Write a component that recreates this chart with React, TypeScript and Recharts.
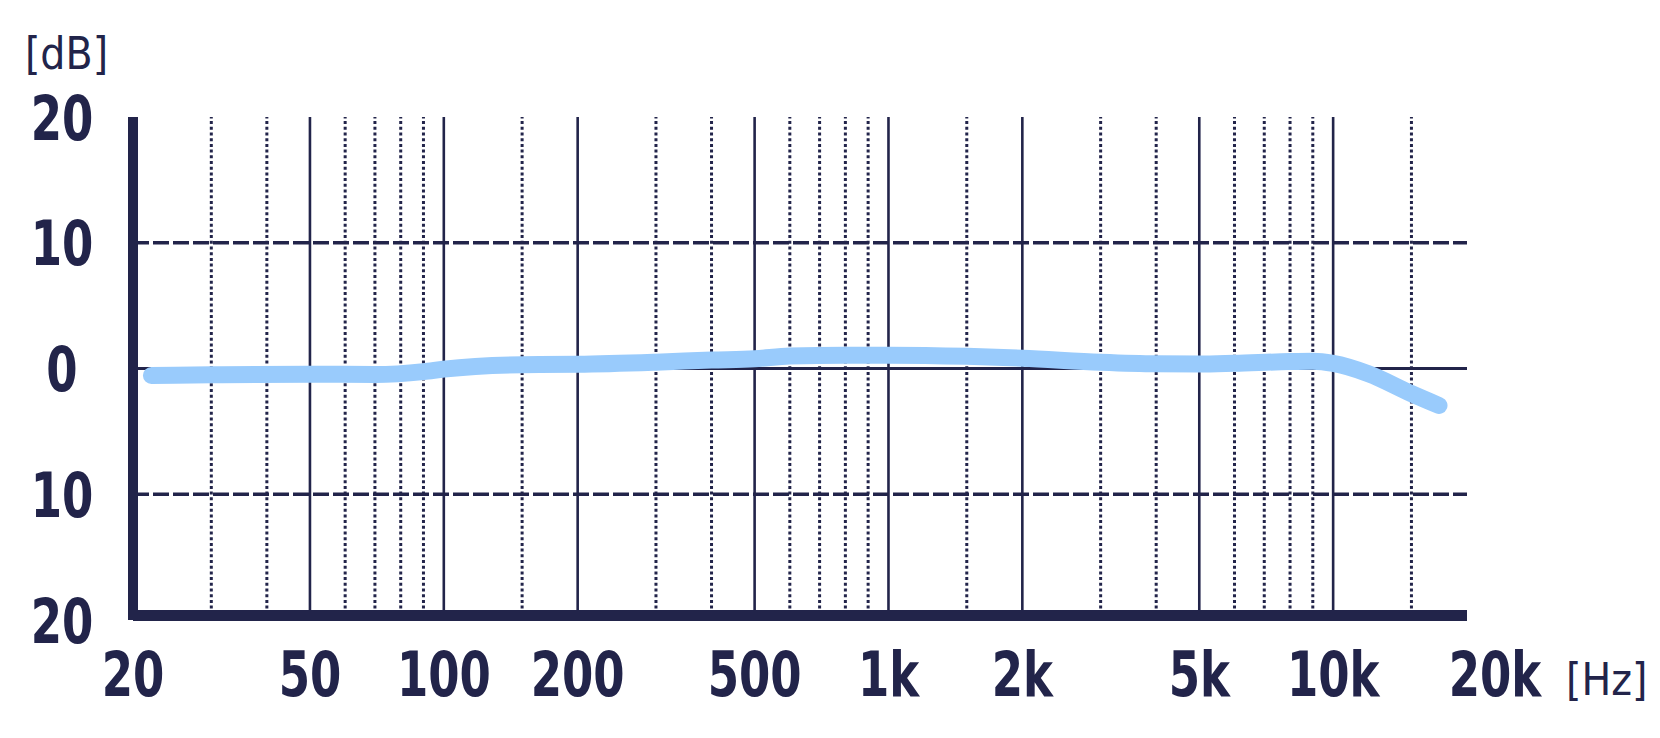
import React from 'react';
import { LineChart, Line, XAxis, YAxis, ReferenceLine } from 'recharts';

// Frequency response
const freqs = [22, 30, 50, 70, 90, 100, 150, 200, 300, 400, 500, 600, 800, 1000, 1500, 2000, 3000, 4000, 5000, 6000, 8000, 9000, 10000, 12000, 15000, 17300];
const levels = [-0.55, -0.5, -0.45, -0.48, -0.25, -0.05, 0.3, 0.33, 0.5, 0.67, 0.77, 1.0, 1.06, 1.06, 0.97, 0.82, 0.5, 0.37, 0.35, 0.41, 0.55, 0.57, 0.4, -0.42, -2.0, -2.94];

const xTicks = [20, 50, 100, 200, 500, 1000, 2000, 5000, 10000, 20000];
const xTickLabels = ['20', '50', '100', '200', '500', '1k', '2k', '5k', '10k', '20k'];
const yTicks = [20, 10, 0, -10, -20];
const yTickLabels = ['20', '10', '0', '10', '20'];

const majorGrid = [50, 100, 200, 500, 1000, 2000, 5000, 10000];
const minorGrid = [30, 40, 60, 70, 80, 90, 150, 300, 400, 600, 700, 800, 900, 1500, 3000, 4000, 6000, 7000, 8000, 9000, 15000];
const dashedLevels = [10, -10];
const zeroLevel = 0;

const xUnit = '[Hz]';
const yUnit = '[dB]';

const data = freqs.map((f, i) => ({ f, db: levels[i] }));

const NAVY = '#22244a';
const BLUE = '#99cbfc';
const FONT = "'DejaVu Sans Condensed', 'DejaVu Sans', sans-serif";

const TallText = ({ x, y, label }: { x: number; y: number; label: string }) => (
  <text transform={`translate(${x},${y}) scale(1,1.25)`} x={0} y={0} dy="0.36em"
    textAnchor="middle" fill={NAVY}
    style={{ fontFamily: FONT, fontSize: 50, fontWeight: 700 }}>
    {label}
  </text>
);

const XTick = (props: any) => {
  const { x, y, payload } = props;
  const idx = xTicks.indexOf(payload.value);
  const label = idx >= 0 ? xTickLabels[idx] : String(payload.value);
  const shift = payload.value === 20000 ? 28 : 0;
  return <TallText x={x + shift} y={y} label={label} />;
};

const YTick = (props: any) => {
  const { x, y, payload } = props;
  const idx = yTicks.indexOf(payload.value);
  const label = idx >= 0 ? yTickLabels[idx] : String(payload.value);
  return <TallText x={x} y={y} label={label} />;
};

export default function App() {
  return (
    <div style={{ width: 1660, height: 738, background: '#fff' }}>
      <style>{`body{margin:0;background:#fff;}`}</style>
      <LineChart width={1660} height={738} data={data}
        margin={{ top: 117, right: 193, bottom: 0, left: 0 }}>
        <XAxis dataKey="f" type="number" scale="log" domain={[20, 20000]} allowDataOverflow
          ticks={xTicks} interval={0} tickSize={0} tickMargin={53} tickLine={false}
          height={118} tick={<XTick />}
          axisLine={{ stroke: NAVY, strokeWidth: 11, transform: 'translate(0,-4.5)' }}
          label={{ value: xUnit, position: 'right', offset: 99, fill: NAVY,
            style: { fontFamily: FONT, fontSize: 44 } }} />
        <YAxis type="number" domain={[-20, 20]} ticks={yTicks} interval={0}
          width={133} tickSize={0} tickMargin={71} tickLine={false} tick={<YTick />}
          axisLine={{ stroke: NAVY, strokeWidth: 10 }}
          label={{ value: yUnit, position: 'top', offset: 48, fill: NAVY,
            style: { fontFamily: FONT, fontSize: 44 } }} />
        {minorGrid.map((f) => (
          <ReferenceLine key={'mi' + f} x={f} stroke={NAVY} strokeWidth={3} strokeDasharray="3 2.7" ifOverflow="visible" />
        ))}
        {majorGrid.map((f) => (
          <ReferenceLine key={'ma' + f} x={f} stroke={NAVY} strokeWidth={2.6} ifOverflow="visible" />
        ))}
        {dashedLevels.map((v) => (
          <ReferenceLine key={'h' + v} y={v} stroke={NAVY} strokeWidth={3.5} strokeDasharray="16 4" ifOverflow="visible" />
        ))}
        <ReferenceLine y={zeroLevel} stroke={NAVY} strokeWidth={3} ifOverflow="visible" />
        <Line dataKey="db" type="monotone" stroke={BLUE} strokeWidth={17} strokeLinecap="round"
          strokeLinejoin="round" dot={false} activeDot={false} isAnimationActive={false} />
      </LineChart>
    </div>
  );
}
